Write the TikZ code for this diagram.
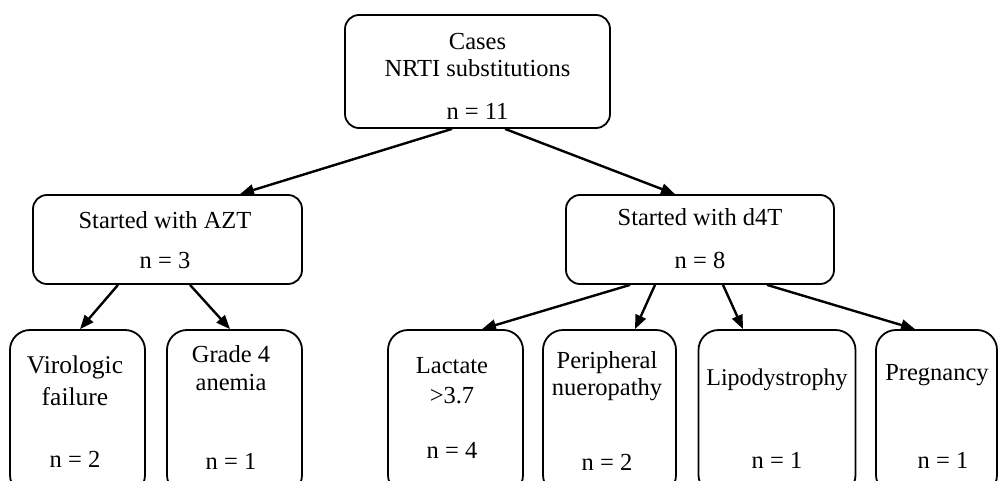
\documentclass[tikz,border=0pt]{standalone}
\usepackage{fontspec}
\setmainfont{Liberation Serif}
\usetikzlibrary{arrows.meta}
\begin{document}
\begin{tikzpicture}[x=1pt,y=-1pt,
  box/.style={draw, line width=1.8pt, rounded corners=14pt, inner sep=0pt},
  lbl/.style={anchor=base, inner sep=0pt, font=\fontsize{24.5}{28}\selectfont},
  big/.style={anchor=base, inner sep=0pt, font=\fontsize{25.5}{28}\selectfont},
  arr/.style={line width=2.4pt, -{Triangle[length=14pt,width=11pt]}}]
\path[use as bounding box] (0,0) rectangle (1000,481);
\clip (0,0) rectangle (1000,481);
% boxes
\node[box, minimum width=265pt, minimum height=113pt] (top) at (477.5,71.5) {};
\node[box, minimum width=269pt, minimum height=89pt] (azt) at (167.5,239.5) {};
\node[box, minimum width=268pt, minimum height=89pt] (d4t) at (700,239.5) {};
\node[box, rounded corners=20pt, minimum width=135pt, minimum height=165pt] (vir) at (77.5,412.5) {};
\node[box, rounded corners=20pt, minimum width=135pt, minimum height=165pt] (gra) at (234.5,412.5) {};
\node[box, rounded corners=20pt, minimum width=135pt, minimum height=165pt] (lac) at (455.5,412.5) {};
\node[box, rounded corners=20pt, minimum width=133pt, minimum height=165pt] (per) at (609.5,412.5) {};
\node[box, rounded corners=20pt, minimum width=157pt, minimum height=165pt] (lip) at (777,412.5) {};
\node[box, rounded corners=20pt, minimum width=121pt, minimum height=165pt] (pre) at (936.5,412.5) {};
% texts
\node[lbl] (t1) at (477.5,50) {Cases};
\node[lbl] (t2) at (477.5,77) {NRTI substitutions};
\node[lbl] (t3) at (477.5,120) {n = 11};
\node[lbl] (a1) at (165,228) {Started with AZT};
\node[lbl] (a2) at (165,268) {n = 3};
\node[lbl] (d1) at (700,225) {Started with d4T};
\node[lbl] (d2) at (700,268) {n = 8};
\node[big] (v1) at (75,373) {Virologic};
\node[big] (v2) at (75,405) {failure};
\node[lbl] (v3) at (75,467) {n = 2};
\node[lbl] (g1) at (231,362) {Grade 4};
\node[lbl] (g2) at (231,390) {anemia};
\node[lbl] (g3) at (231,469) {n = 1};
\node[lbl] (l1) at (452,373) {Lactate};
\node[lbl] (l2) at (452,403) {>3.7};
\node[lbl] (l3) at (452,458) {n = 4};
\node[lbl] (p1) at (607,368) {Peripheral};
\node[lbl] (p2) at (607,395) {nueropathy};
\node[lbl] (p3) at (607,470) {n = 2};
\node[lbl, font=\fontsize{24}{28}\selectfont] (y1) at (777,385) {Lipodystrophy};
\node[lbl] (y2) at (777,468) {n = 1};
\node[lbl] (r1) at (937,380) {Pregnancy};
\node[lbl] (r2) at (943,468) {n = 1};
% arrows
\draw[arr] ([xshift=-25.5pt]top.south) -- ([xshift=72.5pt]azt.north);
\draw[arr] ([xshift=27.5pt]top.south) -- ([xshift=-25pt]d4t.north);
\draw[arr] ([xshift=-49.5pt]azt.south) -- ([xshift=2.5pt]vir.north);
\draw[arr] ([xshift=22.5pt]azt.south) -- ([xshift=-4.5pt]gra.north);
\draw[arr] ([xshift=-70pt]d4t.south) -- ([xshift=26.5pt]lac.north);
\draw[arr] ([xshift=-45pt]d4t.south) -- ([xshift=25.5pt]per.north);
\draw[arr] ([xshift=23pt]d4t.south) -- ([xshift=-34pt]lip.north);
\draw[arr] ([xshift=67pt]d4t.south) -- ([xshift=-21.5pt]pre.north);
\end{tikzpicture}
\end{document}
